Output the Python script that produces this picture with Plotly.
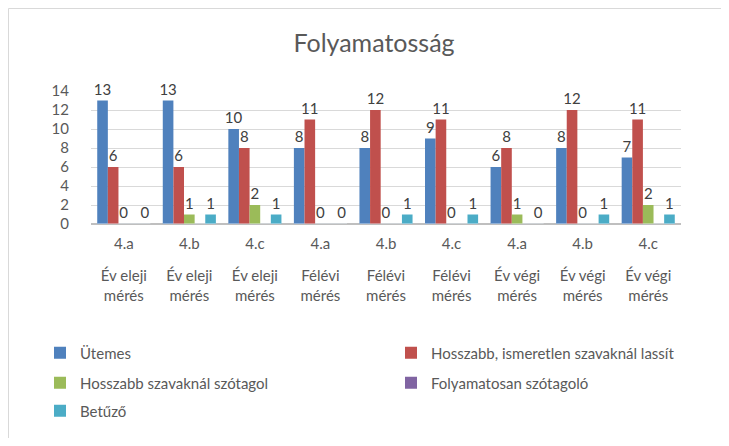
import plotly.graph_objects as go

classes = ["4.a", "4.b", "4.c", "4.a", "4.b", "4.c", "4.a", "4.b", "4.c"]
periods = ["Év eleji<br>mérés"] * 3 + ["Félévi<br>mérés"] * 3 + ["Év végi<br>mérés"] * 3
series_names = ["Ütemes", "Hosszabb, ismeretlen szavaknál lassít",
                "Hosszabb szavaknál szótagol", "Folyamatosan szótagoló", "Betűző"]
utemes = [13, 13, 10, 8, 8, 9, 6, 8, 7]
lassit = [6, 6, 8, 11, 12, 11, 8, 12, 11]
szotagol = [0, 1, 2, 0, 0, 0, 1, 0, 2]
folyamatosan = [0, 0, 0, 0, 0, 0, 0, 0, 0]
betuzo = [0, 1, 1, 0, 1, 1, 0, 1, 1]
colors = ["#4F81BD", "#C0504D", "#9BBB59", "#8064A2", "#4BACC6"]
show_labels = [True, True, True, False, True]

# page body has an 8px margin, so the figure is sized to fit the window without scrollbars
W, H = 713, 430
ml, mr, mt, mb = 83, 40, 83, 214
pw, ph = W - ml - mr, H - mt - mb

def px(xp):
    return (xp - ml) / pw

def py(yp):
    return (H - mb - yp) / ph

FONT = "Lato"
GRAY = "#595959"
BORDER = "#D9D9D9"

x = list(range(len(classes)))
legend_ids = ["legend", "legend2", "legend3", "legend4", "legend5"]
legend_pos = [(32, 345), (383, 345), (32, 375), (383, 375), (32, 403)]

fig = go.Figure()
for name, vals, col, lab, lid in zip(series_names, [utemes, lassit, szotagol, folyamatosan, betuzo],
                                     colors, show_labels, legend_ids):
    fig.add_trace(go.Bar(
        x=x, y=vals, name=name, marker=dict(color=col, line=dict(width=0)),
        text=[str(v) for v in vals] if lab else None,
        textposition="outside", cliponaxis=False, constraintext="none",
        textfont=dict(size=15, color="#404040", family=FONT),
        legend=lid,
    ))

# invisible trace to carry the second x-axis (class labels)
fig.add_trace(go.Bar(x=x, y=[0] * len(x), xaxis="x2", showlegend=False,
                     marker=dict(color="rgba(0,0,0,0)"), hoverinfo="skip"))

legend_layout = {}
for lid, (lx, ly) in zip(legend_ids, legend_pos):
    legend_layout[lid] = dict(x=px(lx), xanchor="left", y=py(ly), yanchor="middle",
                              bgcolor="rgba(0,0,0,0)",
                              font=dict(size=15, color=GRAY, family=FONT))

border_lines = [
    dict(type="line", xref="paper", yref="paper", x0=px(0.5), x1=px(0.5), y0=py(436), y1=py(0.5),
         line=dict(color=BORDER, width=1), layer="below"),
    dict(type="line", xref="paper", yref="paper", x0=px(0.5), x1=px(W), y0=py(0.5), y1=py(0.5),
         line=dict(color=BORDER, width=1), layer="below"),
    dict(type="line", xref="paper", yref="paper", x0=px(0.5), x1=px(W), y0=py(436), y1=py(436),
         line=dict(color=BORDER, width=1), layer="below"),
]

fig.update_layout(
    width=W, height=H,
    margin=dict(l=ml, r=mr, t=mt, b=mb, autoexpand=False),
    paper_bgcolor="white", plot_bgcolor="white",
    font=dict(family=FONT, color=GRAY, size=15),
    title=dict(text="Folyamatosság", x=366 / W, xref="container", y=1 - 35 / H, yref="container",
               yanchor="middle", xanchor="center",
               font=dict(size=25, color=GRAY, family=FONT)),
    barmode="group", bargap=0.19, bargroupgap=0,
    showlegend=True,
    xaxis=dict(tickmode="array", tickvals=x, ticktext=periods, range=[-0.5, 8.5],
               showgrid=False, zeroline=False, showline=False, ticks="",
               ticklabelstandoff=41,
               tickfont=dict(size=15, color=GRAY, family=FONT)),
    xaxis2=dict(tickmode="array", tickvals=x, ticktext=classes, range=[-0.5, 8.5],
                overlaying="x", anchor="y", side="bottom",
                showgrid=False, zeroline=False, showline=False, ticks="",
                ticklabelstandoff=9,
                tickfont=dict(size=15, color=GRAY, family=FONT)),
    yaxis=dict(range=[0, 14], dtick=2, showgrid=True, gridcolor="#D9D9D9", gridwidth=1,
               zeroline=True, zerolinecolor="#BFBFBF", showline=False,
               ticks="outside", ticklen=18, tickcolor="rgba(0,0,0,0)",
               tickfont=dict(size=15, color=GRAY, family=FONT)),
    shapes=border_lines,
    **legend_layout,
)

fig.write_html("out.html")
